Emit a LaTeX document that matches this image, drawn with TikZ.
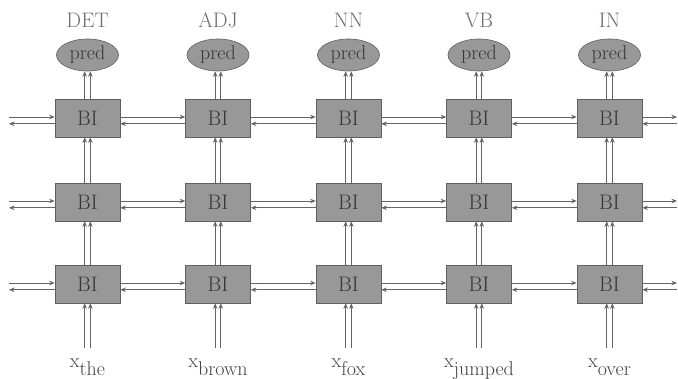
\documentclass[tikz,border=0pt]{standalone}
\usetikzlibrary{arrows.meta,shapes.geometric}
\definecolor{boxfill}{RGB}{152,152,152}
\definecolor{boxline}{RGB}{95,95,95}
\definecolor{boxtext}{RGB}{55,55,55}
\definecolor{linegray}{RGB}{100,100,100}
\definecolor{labgray}{RGB}{110,110,110}
\definecolor{labdark}{RGB}{65,65,65}
\begin{document}
\begin{tikzpicture}[x=1pt,y=1pt,
  bibox/.style={draw=boxline, fill=boxfill, minimum width=65pt, minimum height=38pt, inner sep=0pt, line width=0.6pt, font=\fontsize{21}{24}\selectfont, text=boxtext},
  predel/.style={ellipse, draw=boxline, fill=boxfill, minimum width=62pt, minimum height=32pt, inner sep=0pt, line width=0.6pt, font=\fontsize{20}{24}\selectfont, text=boxtext},
  tag/.style={font=\fontsize{21}{24}\selectfont, text=labgray, anchor=base},
  inlab/.style={font=\fontsize{20}{24}\selectfont, text=labdark, anchor=base},
  arr/.style={draw=linegray, line width=0.75pt, -{Stealth[length=5.5pt,width=4.5pt]}}]
\useasboundingbox (0,0) rectangle (678,379);
% nodes
\foreach \c/\x/\t/\w in {1/87.5/DET/the,2/218/ADJ/brown,3/348.5/NN/fox,4/479/VB/jumped,5/609.5/IN/over}{
  \node[bibox] (b1\c) at (\x,261) {BI};
  \node[bibox] (b2\c) at (\x,177) {BI};
  \node[bibox] (b3\c) at (\x,95) {BI};
  \node[predel] (p\c) at (\x,324) {pred};
  \node[tag] (t\c) at (\x,351) {\t};
  \node[inlab] (w\c) at (\x,11) {x\raisebox{-8pt}{\w}};
  \coordinate (in\c) at (\x,31);
  % vertical connectors
  \foreach \s in {-2.8,2.8}{
    \draw[arr] ([xshift=\s pt]in\c) -- ([xshift=\s pt]b3\c.south);
    \draw[arr] ([xshift=\s pt]b3\c.north) -- ([xshift=\s pt]b2\c.south);
    \draw[arr] ([xshift=\s pt]b2\c.north) -- ([xshift=\s pt]b1\c.south);
    \draw[arr] ([xshift=\s pt]b1\c.north) -- ([xshift=\s pt]p\c.south);
  }
}
% horizontal connectors
\foreach \r/\y in {1/261,2/177,3/95}{
  \coordinate (L\r) at (9,\y);
  \coordinate (R\r) at (677,\y);
  \draw[arr] ([yshift=1pt]L\r) -- ([yshift=1pt]b\r1.west);
  \draw[arr] ([yshift=-5.8pt]b\r1.west) -- ([yshift=-5.8pt]L\r);
  \draw[arr] ([yshift=1pt]b\r5.east) -- ([yshift=1pt]R\r);
  \draw[arr] ([yshift=-5.8pt]R\r) -- ([yshift=-5.8pt]b\r5.east);
  \foreach \c/\d in {1/2,2/3,3/4,4/5}{
    \draw[arr] ([yshift=1pt]b\r\c.east) -- ([yshift=1pt]b\r\d.west);
    \draw[arr] ([yshift=-5.8pt]b\r\d.west) -- ([yshift=-5.8pt]b\r\c.east);
  }
}
\end{tikzpicture}
\end{document}
